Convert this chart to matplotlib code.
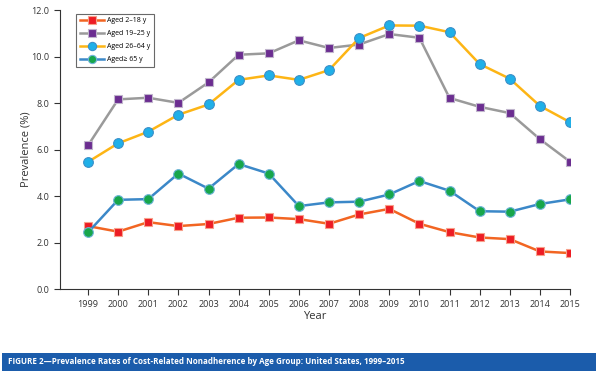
import matplotlib.pyplot as plt
from matplotlib.patches import Rectangle

plt.rcParams['font.family'] = ['Open Sans', 'DejaVu Sans']

years = list(range(1999, 2016))
aged_2_18 = [2.71, 2.47, 2.88, 2.71, 2.80, 3.07, 3.08, 3.01, 2.81, 3.21, 3.45, 2.81, 2.45, 2.22, 2.15, 1.62, 1.55]
aged_19_25 = [6.18, 8.16, 8.23, 8.01, 8.89, 10.08, 10.14, 10.70, 10.37, 10.52, 10.97, 10.81, 8.22, 7.84, 7.57, 6.45, 5.48]
aged_26_64 = [5.47, 6.27, 6.77, 7.50, 7.94, 9.00, 9.19, 9.00, 9.42, 10.80, 11.34, 11.33, 11.05, 9.68, 9.05, 7.88, 7.18]
aged_65 = [2.44, 3.84, 3.87, 4.97, 4.32, 5.38, 4.97, 3.57, 3.73, 3.76, 4.07, 4.65, 4.23, 3.35, 3.33, 3.66, 3.86]
labels = ['Aged 2\u201318 y', 'Aged 19\u201325 y', 'Aged 26\u201364 y', 'Aged\u2265 65 y']
title = 'FIGURE 2\u2014Prevalence Rates of Cost-Related Nonadherence by Age Group: United States, 1999\u20132015'

fig = plt.figure(figsize=(6, 3.74), dpi=100)
ax = fig.add_axes([0.1, 0.227, 0.85, 0.746])

# series styles: line colour, marker, marker face, marker edge
styles = [
    ('#f26522', 's', '#ed1c24', '#f7a08a'),
    ('#9a9a9a', 's', '#6b2d90', '#c0b5cc'),
    ('#fdb515', 'o', '#1fb0e8', '#3a8fc9'),
    ('#3b88c8', 'o', '#17a64b', '#6fb5d9'),
]
series = [aged_2_18, aged_19_25, aged_26_64, aged_65]
for vals, lab, (lc, mk, mf, me) in zip(series, labels, styles):
    ms = 6.2 if mk == 's' else 7
    ax.plot(years, vals, color=lc, lw=1.8, marker=mk, ms=ms,
            markerfacecolor=mf, markeredgecolor=me, markeredgewidth=0.8, label=lab)

ax.set_xlim(1998.07, 2015)
ax.set_ylim(0, 12)
ax.set_xticks(years)
ax.set_yticks([0, 2, 4, 6, 8, 10, 12])
ax.set_yticklabels([f'{v:.1f}' for v in [0, 2, 4, 6, 8, 10, 12]])
ax.tick_params(labelsize=6.5, colors='#333333', length=4, width=0.8)
for s in ['top', 'right']:
    ax.spines[s].set_visible(False)
for s in ['left', 'bottom']:
    ax.spines[s].set_color('#333333')
    ax.spines[s].set_linewidth(0.8)
ax.set_xlabel('Year', fontsize=8, color='#333333', labelpad=2)
ax.set_ylabel('Prevalence (%)', fontsize=8, color='#333333', labelpad=0)

leg = ax.legend(loc='upper left', bbox_to_anchor=(0.025, 1.0), fontsize=5.0,
                frameon=True, fancybox=False, edgecolor='#444444',
                handlelength=3.4, labelspacing=0.85, borderpad=0.55,
                handletextpad=0.5, markerscale=0.85)
leg.get_frame().set_linewidth(0.8)

fig.patches.append(Rectangle((2 / 600, (374 - 371) / 374), 594 / 600, 18 / 374,
                             transform=fig.transFigure, facecolor='#1b5cab',
                             edgecolor='none'))
fig.text(8 / 600, (374 - 362) / 374, title, color='white', fontsize=5.8,
         fontweight='bold', va='center', ha='left')

fig.savefig('out.png', dpi=100)
